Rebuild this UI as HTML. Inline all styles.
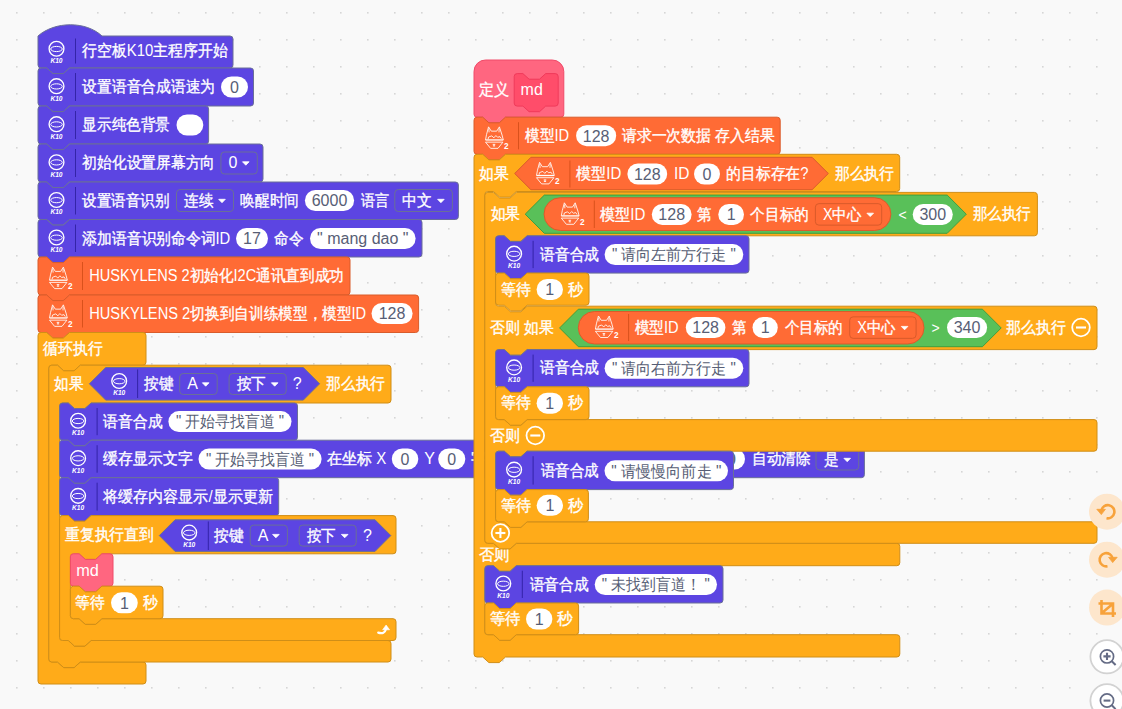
<!DOCTYPE html>
<html><head><meta charset="utf-8"><title>Mind+ blocks</title>
<style>
html,body{margin:0;padding:0;width:1122px;height:709px;overflow:hidden;background:#F9F9F9;}
svg{display:block;font-family:"Liberation Sans",sans-serif;}
text{white-space:pre;}
</style></head><body>
<svg width="1122" height="709" viewBox="0 0 1122 709">
<defs><pattern id="g" x="16" y="12" width="27" height="27" patternUnits="userSpaceOnUse"><rect x="0" y="0" width="1.6" height="1.6" fill="#D6D6D6"/></pattern></defs>
<rect width="1122" height="709" fill="#F9F9F9"/>
<rect width="1122" height="709" fill="url(#g)"/>
<path d="M38,36 C55,21 86,21 102,36 L230,36 Q233,36 233,39 L233,65 Q233,68 230,68 L69.5,68 L63.3,73.6 L52.9,73.6 L46.7,68 L41,68 Q38,68 38,65 Z" fill="#5C45E2" stroke="#6A6F98" stroke-width="1"/>
<circle cx="56.5" cy="48.8" r="7.4" fill="none" stroke="#fff" stroke-width="1.35"/>
<ellipse cx="56.5" cy="49" rx="5.8" ry="2.6" fill="none" stroke="#fff" stroke-width="1.0"/>
<text x="56.5" y="63.2" fill="#fff" font-size="6.6" font-weight="bold" font-style="italic" text-anchor="middle">K10</text>
<rect x="75" y="38.5" width="1" height="25" fill="#3424A8"/>
<text x="82.1" y="56.2" fill="#fff" font-size="16" text-anchor="start" textLength="145.5" lengthAdjust="spacingAndGlyphs"><tspan stroke="#fff" stroke-width="0.35">行空板</tspan>K10<tspan stroke="#fff" stroke-width="0.35">主程序开始</tspan></text>
<path d="M38,71 Q38,68 41,68 L46.7,68 L52.9,73.6 L63.3,73.6 L69.5,68 L250.5,68 Q253.5,68 253.5,71 L253.5,103 Q253.5,106 250.5,106 L69.5,106 L63.3,111.6 L52.9,111.6 L46.7,106 L41,106 Q38,106 38,103 Z" fill="#5C45E2" stroke="#6A6F98" stroke-width="1"/>
<circle cx="56.5" cy="86.2" r="7.4" fill="none" stroke="#fff" stroke-width="1.35"/>
<ellipse cx="56.5" cy="86.4" rx="5.8" ry="2.6" fill="none" stroke="#fff" stroke-width="1.0"/>
<text x="56.5" y="100.6" fill="#fff" font-size="6.6" font-weight="bold" font-style="italic" text-anchor="middle">K10</text>
<rect x="75" y="73" width="1" height="28" fill="#3424A8"/>
<text x="82.4" y="92.2" fill="#fff" font-size="16" text-anchor="start" textLength="132.6" lengthAdjust="spacingAndGlyphs"><tspan stroke="#fff" stroke-width="0.35">设置语音合成语速为</tspan></text>
<rect x="221" y="76.5" width="27" height="21" rx="10.5" fill="#fff" stroke="none"/>
<text x="234.5" y="92.8" fill="#575E75" font-size="16" text-anchor="middle">0</text>
<path d="M38,109 Q38,106 41,106 L46.7,106 L52.9,111.6 L63.3,111.6 L69.5,106 L205.6,106 Q208.6,106 208.6,109 L208.6,141 Q208.6,144 205.6,144 L69.5,144 L63.3,149.6 L52.9,149.6 L46.7,144 L41,144 Q38,144 38,141 Z" fill="#5C45E2" stroke="#6A6F98" stroke-width="1"/>
<circle cx="56.5" cy="124.2" r="7.4" fill="none" stroke="#fff" stroke-width="1.35"/>
<ellipse cx="56.5" cy="124.4" rx="5.8" ry="2.6" fill="none" stroke="#fff" stroke-width="1.0"/>
<text x="56.5" y="138.6" fill="#fff" font-size="6.6" font-weight="bold" font-style="italic" text-anchor="middle">K10</text>
<rect x="75" y="111" width="1" height="28" fill="#3424A8"/>
<text x="82.4" y="130.2" fill="#fff" font-size="16" text-anchor="start" textLength="87.6" lengthAdjust="spacingAndGlyphs"><tspan stroke="#fff" stroke-width="0.35">显示纯色背景</tspan></text>
<rect x="176.5" y="114.5" width="26.8" height="21" rx="10.5" fill="#fff" stroke="none"/>
<path d="M38,147 Q38,144 41,144 L46.7,144 L52.9,149.6 L63.3,149.6 L69.5,144 L260,144 Q263,144 263,147 L263,179 Q263,182 260,182 L69.5,182 L63.3,187.6 L52.9,187.6 L46.7,182 L41,182 Q38,182 38,179 Z" fill="#5C45E2" stroke="#6A6F98" stroke-width="1"/>
<circle cx="56.5" cy="162.2" r="7.4" fill="none" stroke="#fff" stroke-width="1.35"/>
<ellipse cx="56.5" cy="162.4" rx="5.8" ry="2.6" fill="none" stroke="#fff" stroke-width="1.0"/>
<text x="56.5" y="176.6" fill="#fff" font-size="6.6" font-weight="bold" font-style="italic" text-anchor="middle">K10</text>
<rect x="75" y="149" width="1" height="28" fill="#3424A8"/>
<text x="82.4" y="168.2" fill="#fff" font-size="16" text-anchor="start" textLength="132.6" lengthAdjust="spacingAndGlyphs"><tspan stroke="#fff" stroke-width="0.35">初始化设置屏幕方向</tspan></text>
<rect x="220.9" y="152" width="36.4" height="22" rx="3.5" fill="#5C45E2" stroke="#6A6F98" stroke-width="1"/>
<text x="228.4" y="168.2" fill="#fff" font-size="16" text-anchor="start">0</text>
<path d="M242.5,161.8 L249.1,161.8 L245.8,165.2 Z" fill="#fff" stroke="#fff" stroke-width="0.8" stroke-linejoin="round"/>
<path d="M38,185 Q38,182 41,182 L46.7,182 L52.9,187.6 L63.3,187.6 L69.5,182 L455.4,182 Q458.4,182 458.4,185 L458.4,216.5 Q458.4,219.5 455.4,219.5 L69.5,219.5 L63.3,225.1 L52.9,225.1 L46.7,219.5 L41,219.5 Q38,219.5 38,216.5 Z" fill="#5C45E2" stroke="#6A6F98" stroke-width="1"/>
<circle cx="56.5" cy="199.95" r="7.4" fill="none" stroke="#fff" stroke-width="1.35"/>
<ellipse cx="56.5" cy="200.15" rx="5.8" ry="2.6" fill="none" stroke="#fff" stroke-width="1.0"/>
<text x="56.5" y="214.35" fill="#fff" font-size="6.6" font-weight="bold" font-style="italic" text-anchor="middle">K10</text>
<rect x="75" y="187" width="1" height="27.5" fill="#3424A8"/>
<text x="82.4" y="205.7" fill="#fff" font-size="16" text-anchor="start" textLength="86.9" lengthAdjust="spacingAndGlyphs"><tspan stroke="#fff" stroke-width="0.35">设置语音识别</tspan></text>
<rect x="176.5" y="189.5" width="57" height="22" rx="3.5" fill="#5C45E2" stroke="#6A6F98" stroke-width="1"/>
<text x="184" y="205.7" fill="#fff" font-size="16" text-anchor="start" textLength="29" lengthAdjust="spacingAndGlyphs"><tspan stroke="#fff" stroke-width="0.35">连续</tspan></text>
<path d="M218.7,199.3 L225.3,199.3 L222,202.7 Z" fill="#fff" stroke="#fff" stroke-width="0.8" stroke-linejoin="round"/>
<text x="240.3" y="205.7" fill="#fff" font-size="16" text-anchor="start" textLength="58.6" lengthAdjust="spacingAndGlyphs"><tspan stroke="#fff" stroke-width="0.35">唤醒时间</tspan></text>
<rect x="304.9" y="190" width="49.2" height="21" rx="10.5" fill="#fff" stroke="none"/>
<text x="329.5" y="206.3" fill="#575E75" font-size="16" text-anchor="middle">6000</text>
<text x="360.5" y="205.7" fill="#fff" font-size="16" text-anchor="start" textLength="28.2" lengthAdjust="spacingAndGlyphs"><tspan stroke="#fff" stroke-width="0.35">语言</tspan></text>
<rect x="394.8" y="189.5" width="57.6" height="22" rx="3.5" fill="#5C45E2" stroke="#6A6F98" stroke-width="1"/>
<text x="402.3" y="205.7" fill="#fff" font-size="16" text-anchor="start" textLength="29.6" lengthAdjust="spacingAndGlyphs"><tspan stroke="#fff" stroke-width="0.35">中文</tspan></text>
<path d="M437.6,199.3 L444.2,199.3 L440.9,202.7 Z" fill="#fff" stroke="#fff" stroke-width="0.8" stroke-linejoin="round"/>
<path d="M38,222.5 Q38,219.5 41,219.5 L46.7,219.5 L52.9,225.1 L63.3,225.1 L69.5,219.5 L419,219.5 Q422,219.5 422,222.5 L422,254 Q422,257 419,257 L69.5,257 L63.3,262.6 L52.9,262.6 L46.7,257 L41,257 Q38,257 38,254 Z" fill="#5C45E2" stroke="#6A6F98" stroke-width="1"/>
<circle cx="56.5" cy="237.45" r="7.4" fill="none" stroke="#fff" stroke-width="1.35"/>
<ellipse cx="56.5" cy="237.65" rx="5.8" ry="2.6" fill="none" stroke="#fff" stroke-width="1.0"/>
<text x="56.5" y="251.85" fill="#fff" font-size="6.6" font-weight="bold" font-style="italic" text-anchor="middle">K10</text>
<rect x="75" y="224.5" width="1" height="27.5" fill="#3424A8"/>
<text x="82.4" y="243.7" fill="#fff" font-size="16" text-anchor="start" textLength="147.9" lengthAdjust="spacingAndGlyphs"><tspan stroke="#fff" stroke-width="0.35">添加语音识别命令词</tspan>ID</text>
<rect x="236" y="228" width="32" height="21" rx="10.5" fill="#fff" stroke="none"/>
<text x="252" y="244.3" fill="#575E75" font-size="16" text-anchor="middle">17</text>
<text x="274" y="243.7" fill="#fff" font-size="16" text-anchor="start" textLength="29.3" lengthAdjust="spacingAndGlyphs"><tspan stroke="#fff" stroke-width="0.35">命令</tspan></text>
<rect x="310" y="228" width="105.6" height="21" rx="10.5" fill="#fff" stroke="none"/>
<text x="362.8" y="244.3" fill="#575E75" font-size="16" text-anchor="middle">&quot; mang dao &quot;</text>
<path d="M38,260 Q38,257 41,257 L46.7,257 L52.9,262.6 L63.3,262.6 L69.5,257 L347,257 Q350,257 350,260 L350,292 Q350,295 347,295 L69.5,295 L63.3,300.6 L52.9,300.6 L46.7,295 L41,295 Q38,295 38,292 Z" fill="#FF6B35" stroke="#D95C2B" stroke-width="1"/>
<g transform="translate(58.1,276)" fill="none" stroke="#fff" stroke-width="0.85" stroke-linejoin="round"><path d="M-8.6,4.2 L-7.6,-1.1 L-5.55,-8.9 L-2.8,-4.6 L2.6,-4.6 L5.3,-8.9 L7.95,-0.7 L9.2,4.2"/><path d="M-5.3,-7.2 L-5,-3.4 M5.1,-7.2 L4.9,-3.4"/><path d="M-8.6,6.4 L8.8,6.4 L3.9,12.6 L-3.5,12.6 Z"/><path d="M-6,3.4 L-5.6,1.3 L-2.3,0.1 L-0.3,2.1 L1.8,-0.2 L3.5,1.5 L5.9,0.9 L7.2,2.9"/><path d="M-8.6,4.2 L9.2,4.2" stroke-width="1.3"/><path d="M-1.4,8.6 L1.2,8.6 M-0.1,8.6 L-0.1,10.2 M-1.2,10.2 L1,10.2"/></g>
<text x="68.1" y="288.8" fill="#fff" font-size="8.2" font-weight="bold">2</text>
<rect x="82" y="262" width="1" height="28" fill="#D9511C"/>
<text x="89.2" y="281.2" fill="#fff" font-size="16" text-anchor="start" textLength="254.5" lengthAdjust="spacingAndGlyphs">HUSKYLENS 2<tspan stroke="#fff" stroke-width="0.35">初始化</tspan>I2C<tspan stroke="#fff" stroke-width="0.35">通讯直到成功</tspan></text>
<path d="M38,298 Q38,295 41,295 L46.7,295 L52.9,300.6 L63.3,300.6 L69.5,295 L415.6,295 Q418.6,295 418.6,298 L418.6,329.5 Q418.6,332.5 415.6,332.5 L69.5,332.5 L63.3,338.1 L52.9,338.1 L46.7,332.5 L41,332.5 Q38,332.5 38,329.5 Z" fill="#FF6B35" stroke="#D95C2B" stroke-width="1"/>
<g transform="translate(58.1,313.75)" fill="none" stroke="#fff" stroke-width="0.85" stroke-linejoin="round"><path d="M-8.6,4.2 L-7.6,-1.1 L-5.55,-8.9 L-2.8,-4.6 L2.6,-4.6 L5.3,-8.9 L7.95,-0.7 L9.2,4.2"/><path d="M-5.3,-7.2 L-5,-3.4 M5.1,-7.2 L4.9,-3.4"/><path d="M-8.6,6.4 L8.8,6.4 L3.9,12.6 L-3.5,12.6 Z"/><path d="M-6,3.4 L-5.6,1.3 L-2.3,0.1 L-0.3,2.1 L1.8,-0.2 L3.5,1.5 L5.9,0.9 L7.2,2.9"/><path d="M-8.6,4.2 L9.2,4.2" stroke-width="1.3"/><path d="M-1.4,8.6 L1.2,8.6 M-0.1,8.6 L-0.1,10.2 M-1.2,10.2 L1,10.2"/></g>
<text x="68.1" y="326.55" fill="#fff" font-size="8.2" font-weight="bold">2</text>
<rect x="82" y="300" width="1" height="27.5" fill="#D9511C"/>
<text x="89.2" y="318.7" fill="#fff" font-size="16" text-anchor="start" textLength="277" lengthAdjust="spacingAndGlyphs">HUSKYLENS 2<tspan stroke="#fff" stroke-width="0.35">切换到自训练模型，模型</tspan>ID</text>
<rect x="371.5" y="303" width="41.1" height="21" rx="10.5" fill="#fff" stroke="none"/>
<text x="392.05" y="319.3" fill="#575E75" font-size="16" text-anchor="middle">128</text>
<path d="M38,335.5 Q38,332.5 41,332.5 L46.7,332.5 L52.9,338.1 L63.3,338.1 L69.5,332.5 L143,332.5 Q146,332.5 146,335.5 L146,362.2 Q146,365.2 143,365.2 L80.3,365.2 L74.1,370.8 L63.7,370.8 L57.5,365.2 L51.8,365.2 Q48.8,365.2 48.8,368.2 L48.8,659 Q48.8,662 51.8,662 L57.5,662 L63.7,667.6 L74.1,667.6 L80.3,662 L143,662 Q146,662 146,665 L146,681 Q146,684 143,684 L41,684 Q38,684 38,681 Z" fill="#FFAB19" stroke="#D08E17" stroke-width="1"/>
<text x="43.4" y="354" fill="#fff" font-size="16" text-anchor="start" textLength="59.3" lengthAdjust="spacingAndGlyphs"><tspan stroke="#fff" stroke-width="0.35">循环执行</tspan></text>
<path d="M48.8,368.2 Q48.8,365.2 51.8,365.2 L57.5,365.2 L63.7,370.8 L74.1,370.8 L80.3,365.2 L388,365.2 Q391,365.2 391,368.2 L391,400 Q391,403 388,403 L91.1,403 L84.9,408.6 L74.5,408.6 L68.3,403 L62.6,403 Q59.6,403 59.6,406 L59.6,637.5 Q59.6,640.5 62.6,640.5 L68.3,640.5 L74.5,646.1 L84.9,646.1 L91.1,640.5 L388,640.5 Q391,640.5 391,643.5 L391,659 Q391,662 388,662 L80.3,662 L74.1,667.6 L63.7,667.6 L57.5,662 L51.8,662 Q48.8,662 48.8,659 Z" fill="#FFAB19" stroke="#D08E17" stroke-width="1"/>
<text x="54" y="389.2" fill="#fff" font-size="16" text-anchor="start" textLength="29.3" lengthAdjust="spacingAndGlyphs"><tspan stroke="#fff" stroke-width="0.35">如果</tspan></text>
<path d="M89.4,383.8 L105.7,367.5 L303.3,367.5 L319.6,383.8 L303.3,400.1 L105.7,400.1 Z" fill="#5C45E2" stroke="#6A6F98" stroke-width="1"/>
<circle cx="119.2" cy="381" r="7.4" fill="none" stroke="#fff" stroke-width="1.35"/>
<ellipse cx="119.2" cy="381.2" rx="5.8" ry="2.6" fill="none" stroke="#fff" stroke-width="1.0"/>
<text x="119.2" y="395.4" fill="#fff" font-size="6.6" font-weight="bold" font-style="italic" text-anchor="middle">K10</text>
<rect x="137.1" y="369.5" width="1" height="28.5" fill="#3424A8"/>
<text x="144.3" y="389.2" fill="#fff" font-size="16" text-anchor="start" textLength="29.3" lengthAdjust="spacingAndGlyphs"><tspan stroke="#fff" stroke-width="0.35">按键</tspan></text>
<rect x="179.7" y="373.5" width="37.5" height="21" rx="3.5" fill="#5C45E2" stroke="#6A6F98" stroke-width="1"/>
<text x="187.2" y="389.2" fill="#fff" font-size="16" text-anchor="start">A</text>
<path d="M202.4,382.8 L209,382.8 L205.7,386.2 Z" fill="#fff" stroke="#fff" stroke-width="0.8" stroke-linejoin="round"/>
<rect x="229.1" y="373.5" width="57.1" height="21" rx="3.5" fill="#5C45E2" stroke="#6A6F98" stroke-width="1"/>
<text x="236.6" y="389.2" fill="#fff" font-size="16" text-anchor="start" textLength="29.1" lengthAdjust="spacingAndGlyphs"><tspan stroke="#fff" stroke-width="0.35">按下</tspan></text>
<path d="M271.4,382.8 L278,382.8 L274.7,386.2 Z" fill="#fff" stroke="#fff" stroke-width="0.8" stroke-linejoin="round"/>
<text x="292.7" y="389.2" fill="#fff" font-size="16" text-anchor="start">?</text>
<text x="326" y="389.2" fill="#fff" font-size="16" text-anchor="start" textLength="59" lengthAdjust="spacingAndGlyphs"><tspan stroke="#fff" stroke-width="0.35">那么执行</tspan></text>
<path d="M59.6,406 Q59.6,403 62.6,403 L68.3,403 L74.5,408.6 L84.9,408.6 L91.1,403 L294.5,403 Q297.5,403 297.5,406 L297.5,437.2 Q297.5,440.2 294.5,440.2 L91.1,440.2 L84.9,445.8 L74.5,445.8 L68.3,440.2 L62.6,440.2 Q59.6,440.2 59.6,437.2 Z" fill="#5C45E2" stroke="#6A6F98" stroke-width="1"/>
<circle cx="78.1" cy="420.8" r="7.4" fill="none" stroke="#fff" stroke-width="1.35"/>
<ellipse cx="78.1" cy="421" rx="5.8" ry="2.6" fill="none" stroke="#fff" stroke-width="1.0"/>
<text x="78.1" y="435.2" fill="#fff" font-size="6.6" font-weight="bold" font-style="italic" text-anchor="middle">K10</text>
<rect x="96.6" y="408" width="1" height="27.2" fill="#3424A8"/>
<text x="103.4" y="426.8" fill="#fff" font-size="16" text-anchor="start" textLength="59" lengthAdjust="spacingAndGlyphs"><tspan stroke="#fff" stroke-width="0.35">语音合成</tspan></text>
<rect x="168.4" y="411.1" width="123.1" height="21" rx="10.5" fill="#fff" stroke="none"/>
<text x="229.95" y="427.4" fill="#575E75" font-size="16" text-anchor="middle" textLength="108" lengthAdjust="spacingAndGlyphs">&quot; 开始寻找盲道 &quot;</text>
<path d="M59.6,443.2 Q59.6,440.2 62.6,440.2 L68.3,440.2 L74.5,445.8 L84.9,445.8 L91.1,440.2 L861.4,440.2 Q864.4,440.2 864.4,443.2 L864.4,474.7 Q864.4,477.7 861.4,477.7 L91.1,477.7 L84.9,483.3 L74.5,483.3 L68.3,477.7 L62.6,477.7 Q59.6,477.7 59.6,474.7 Z" fill="#5C45E2" stroke="#6A6F98" stroke-width="1"/>
<circle cx="78.1" cy="458.15" r="7.4" fill="none" stroke="#fff" stroke-width="1.35"/>
<ellipse cx="78.1" cy="458.35" rx="5.8" ry="2.6" fill="none" stroke="#fff" stroke-width="1.0"/>
<text x="78.1" y="472.55" fill="#fff" font-size="6.6" font-weight="bold" font-style="italic" text-anchor="middle">K10</text>
<rect x="96.6" y="445.2" width="1" height="27.5" fill="#3424A8"/>
<text x="103.4" y="464.2" fill="#fff" font-size="16" text-anchor="start" textLength="89.1" lengthAdjust="spacingAndGlyphs"><tspan stroke="#fff" stroke-width="0.35">缓存显示文字</tspan></text>
<rect x="198.5" y="448.5" width="123.1" height="21" rx="10.5" fill="#fff" stroke="none"/>
<text x="260.05" y="464.8" fill="#575E75" font-size="16" text-anchor="middle" textLength="108" lengthAdjust="spacingAndGlyphs">&quot; 开始寻找盲道 &quot;</text>
<text x="326.8" y="464.2" fill="#fff" font-size="16" text-anchor="start" textLength="59.4" lengthAdjust="spacingAndGlyphs"><tspan stroke="#fff" stroke-width="0.35">在坐标</tspan> X</text>
<rect x="391.8" y="448.5" width="26.5" height="21" rx="10.5" fill="#fff" stroke="none"/>
<text x="405.05" y="464.8" fill="#575E75" font-size="16" text-anchor="middle">0</text>
<text x="424.2" y="464.2" fill="#fff" font-size="16" text-anchor="start">Y</text>
<rect x="438.2" y="448.5" width="27.1" height="21" rx="10.5" fill="#fff" stroke="none"/>
<text x="451.75" y="464.8" fill="#575E75" font-size="16" text-anchor="middle">0</text>
<text x="470.8" y="464.2" fill="#fff" font-size="16" text-anchor="start"><tspan stroke="#fff" stroke-width="0.35">字号</tspan></text>
<rect x="718" y="448.5" width="27" height="21" rx="10.5" fill="#fff" stroke="none"/>
<text x="731.5" y="464.8" fill="#575E75" font-size="16" text-anchor="middle">0</text>
<text x="752.1" y="464.2" fill="#fff" font-size="16" text-anchor="start" textLength="58.6" lengthAdjust="spacingAndGlyphs"><tspan stroke="#fff" stroke-width="0.35">自动清除</tspan></text>
<rect x="816" y="449" width="42.7" height="21" rx="3.5" fill="#5C45E2" stroke="#6A6F98" stroke-width="1"/>
<text x="823.5" y="464.7" fill="#fff" font-size="16" text-anchor="start" textLength="14.7" lengthAdjust="spacingAndGlyphs"><tspan stroke="#fff" stroke-width="0.35">是</tspan></text>
<path d="M843.9,458.3 L850.5,458.3 L847.2,461.7 Z" fill="#fff" stroke="#fff" stroke-width="0.8" stroke-linejoin="round"/>
<path d="M59.6,480.7 Q59.6,477.7 62.6,477.7 L68.3,477.7 L74.5,483.3 L84.9,483.3 L91.1,477.7 L275.7,477.7 Q278.7,477.7 278.7,480.7 L278.7,512.6 Q278.7,515.6 275.7,515.6 L91.1,515.6 L84.9,521.2 L74.5,521.2 L68.3,515.6 L62.6,515.6 Q59.6,515.6 59.6,512.6 Z" fill="#5C45E2" stroke="#6A6F98" stroke-width="1"/>
<circle cx="78.1" cy="495.85" r="7.4" fill="none" stroke="#fff" stroke-width="1.35"/>
<ellipse cx="78.1" cy="496.05" rx="5.8" ry="2.6" fill="none" stroke="#fff" stroke-width="1.0"/>
<text x="78.1" y="510.25" fill="#fff" font-size="6.6" font-weight="bold" font-style="italic" text-anchor="middle">K10</text>
<rect x="96.6" y="482.7" width="1" height="27.9" fill="#3424A8"/>
<text x="103.4" y="501.8" fill="#fff" font-size="16" text-anchor="start" textLength="169.3" lengthAdjust="spacingAndGlyphs"><tspan stroke="#fff" stroke-width="0.35">将缓存内容显示</tspan>/<tspan stroke="#fff" stroke-width="0.35">显示更新</tspan></text>
<path d="M59.6,518.6 Q59.6,515.6 62.6,515.6 L68.3,515.6 L74.5,521.2 L84.9,521.2 L91.1,515.6 L393,515.6 Q396,515.6 396,518.6 L396,550.8 Q396,553.8 393,553.8 L101.9,553.8 L95.7,559.4 L85.3,559.4 L79.1,553.8 L73.4,553.8 Q70.4,553.8 70.4,556.8 L70.4,615.7 Q70.4,618.7 73.4,618.7 L79.1,618.7 L85.3,624.3 L95.7,624.3 L101.9,618.7 L393,618.7 Q396,618.7 396,621.7 L396,637.5 Q396,640.5 393,640.5 L91.1,640.5 L84.9,646.1 L74.5,646.1 L68.3,640.5 L62.6,640.5 Q59.6,640.5 59.6,637.5 Z" fill="#FFAB19" stroke="#D08E17" stroke-width="1"/>
<text x="64.8" y="540.2" fill="#fff" font-size="16" text-anchor="start" textLength="89.2" lengthAdjust="spacingAndGlyphs"><tspan stroke="#fff" stroke-width="0.35">重复执行直到</tspan></text>
<path d="M159.3,535.6 L175.1,519.8 L375,519.8 L390.8,535.6 L375,551.4 L175.1,551.4 Z" fill="#5C45E2" stroke="#6A6F98" stroke-width="1"/>
<circle cx="189.2" cy="532.6" r="7.4" fill="none" stroke="#fff" stroke-width="1.35"/>
<ellipse cx="189.2" cy="532.8" rx="5.8" ry="2.6" fill="none" stroke="#fff" stroke-width="1.0"/>
<text x="189.2" y="547" fill="#fff" font-size="6.6" font-weight="bold" font-style="italic" text-anchor="middle">K10</text>
<rect x="207.8" y="521.5" width="1" height="28.5" fill="#3424A8"/>
<text x="214.2" y="540.8" fill="#fff" font-size="16" text-anchor="start" textLength="29.6" lengthAdjust="spacingAndGlyphs"><tspan stroke="#fff" stroke-width="0.35">按键</tspan></text>
<rect x="250.2" y="525.1" width="37.2" height="21" rx="3.5" fill="#5C45E2" stroke="#6A6F98" stroke-width="1"/>
<text x="257.7" y="540.8" fill="#fff" font-size="16" text-anchor="start">A</text>
<path d="M272.6,534.4 L279.2,534.4 L275.9,537.8 Z" fill="#fff" stroke="#fff" stroke-width="0.8" stroke-linejoin="round"/>
<rect x="299.2" y="525.1" width="57" height="21" rx="3.5" fill="#5C45E2" stroke="#6A6F98" stroke-width="1"/>
<text x="306.7" y="540.8" fill="#fff" font-size="16" text-anchor="start" textLength="29" lengthAdjust="spacingAndGlyphs"><tspan stroke="#fff" stroke-width="0.35">按下</tspan></text>
<path d="M341.4,534.4 L348,534.4 L344.7,537.8 Z" fill="#fff" stroke="#fff" stroke-width="0.8" stroke-linejoin="round"/>
<text x="363" y="540.8" fill="#fff" font-size="16" text-anchor="start">?</text>
<path d="M378.2,632.6 Q384.6,634.6 386,629" fill="none" stroke="#fff" stroke-width="2.2" stroke-linecap="round"/><path d="M382.6,629.8 L389.6,629.8 L386.1,625 Z" fill="#fff" stroke="#fff" stroke-width="0.6" stroke-linejoin="round"/>
<path d="M70.4,556.8 Q70.4,553.8 73.4,553.8 L79.1,553.8 L85.3,559.4 L95.7,559.4 L101.9,553.8 L110,553.8 Q113,553.8 113,556.8 L113,583.2 Q113,586.2 110,586.2 L101.9,586.2 L95.7,591.8 L85.3,591.8 L79.1,586.2 L73.4,586.2 Q70.4,586.2 70.4,583.2 Z" fill="#FF6680" stroke="#F04A68" stroke-width="1"/>
<text x="76.2" y="576" fill="#fff" font-size="16" text-anchor="start" textLength="22.6" lengthAdjust="spacingAndGlyphs">md</text>
<path d="M70.4,589.2 Q70.4,586.2 73.4,586.2 L79.1,586.2 L85.3,591.8 L95.7,591.8 L101.9,586.2 L160,586.2 Q163,586.2 163,589.2 L163,615.7 Q163,618.7 160,618.7 L101.9,618.7 L95.7,624.3 L85.3,624.3 L79.1,618.7 L73.4,618.7 Q70.4,618.7 70.4,615.7 Z" fill="#FFAB19" stroke="#D08E17" stroke-width="1"/>
<text x="75.2" y="607.8" fill="#fff" font-size="16" text-anchor="start" textLength="29.5" lengthAdjust="spacingAndGlyphs"><tspan stroke="#fff" stroke-width="0.35">等待</tspan></text>
<rect x="111" y="592.3" width="26.8" height="21" rx="10.5" fill="#fff" stroke="none"/>
<text x="124.4" y="608.6" fill="#575E75" font-size="16" text-anchor="middle">1</text>
<text x="143" y="607.8" fill="#fff" font-size="16" text-anchor="start" textLength="14.9" lengthAdjust="spacingAndGlyphs"><tspan stroke="#fff" stroke-width="0.35">秒</tspan></text>
<path d="M474,71.5 A11.5,11.5 0 0 1 485.5,60 L552.3,60 A11.5,11.5 0 0 1 563.8,71.5 L563.8,114.2 Q563.8,117.2 560.8,117.2 L505.5,117.2 L499.3,122.8 L488.9,122.8 L482.7,117.2 L477,117.2 Q474,117.2 474,114.2 Z" fill="#FF6680" stroke="#F04A68" stroke-width="1"/>
<text x="479.4" y="94.7" fill="#fff" font-size="16" text-anchor="start" textLength="30.1" lengthAdjust="spacingAndGlyphs"><tspan stroke="#fff" stroke-width="0.35">定义</tspan></text>
<path d="M514.2,76.6 Q514.2,73.6 517.2,73.6 L522.9,73.6 L529.1,79.2 L539.5,79.2 L545.7,73.6 L555.2,73.6 Q558.2,73.6 558.2,76.6 L558.2,103.1 Q558.2,106.1 555.2,106.1 L545.7,106.1 L539.5,111.7 L529.1,111.7 L522.9,106.1 L517.2,106.1 Q514.2,106.1 514.2,103.1 Z" fill="#FF4D6A" stroke="#F03A5A" stroke-width="1"/>
<text x="520.6" y="95.2" fill="#fff" font-size="16" text-anchor="start" textLength="22.2" lengthAdjust="spacingAndGlyphs">md</text>
<path d="M474,120.2 Q474,117.2 477,117.2 L482.7,117.2 L488.9,122.8 L499.3,122.8 L505.5,117.2 L777.2,117.2 Q780.2,117.2 780.2,120.2 L780.2,151.3 Q780.2,154.3 777.2,154.3 L505.5,154.3 L499.3,159.9 L488.9,159.9 L482.7,154.3 L477,154.3 Q474,154.3 474,151.3 Z" fill="#FF6B35" stroke="#D95C2B" stroke-width="1"/>
<g transform="translate(494.1,135.75)" fill="none" stroke="#fff" stroke-width="0.85" stroke-linejoin="round"><path d="M-8.6,4.2 L-7.6,-1.1 L-5.55,-8.9 L-2.8,-4.6 L2.6,-4.6 L5.3,-8.9 L7.95,-0.7 L9.2,4.2"/><path d="M-5.3,-7.2 L-5,-3.4 M5.1,-7.2 L4.9,-3.4"/><path d="M-8.6,6.4 L8.8,6.4 L3.9,12.6 L-3.5,12.6 Z"/><path d="M-6,3.4 L-5.6,1.3 L-2.3,0.1 L-0.3,2.1 L1.8,-0.2 L3.5,1.5 L5.9,0.9 L7.2,2.9"/><path d="M-8.6,4.2 L9.2,4.2" stroke-width="1.3"/><path d="M-1.4,8.6 L1.2,8.6 M-0.1,8.6 L-0.1,10.2 M-1.2,10.2 L1,10.2"/></g>
<text x="504.1" y="148.55" fill="#fff" font-size="8.2" font-weight="bold">2</text>
<rect x="518" y="122.2" width="1" height="27.1" fill="#D9511C"/>
<text x="525.1" y="140.9" fill="#fff" font-size="16" text-anchor="start" textLength="44" lengthAdjust="spacingAndGlyphs"><tspan stroke="#fff" stroke-width="0.35">模型</tspan>ID</text>
<rect x="576.1" y="125.2" width="40.1" height="21" rx="10.5" fill="#fff" stroke="none"/>
<text x="596.15" y="141.5" fill="#575E75" font-size="16" text-anchor="middle">128</text>
<text x="622" y="140.9" fill="#fff" font-size="16" text-anchor="start" textLength="152.4" lengthAdjust="spacingAndGlyphs"><tspan stroke="#fff" stroke-width="0.35">请求一次数据</tspan> <tspan stroke="#fff" stroke-width="0.35">存入结果</tspan></text>
<path d="M474,157.3 Q474,154.3 477,154.3 L482.7,154.3 L488.9,159.9 L499.3,159.9 L505.5,154.3 L896.7,154.3 Q899.7,154.3 899.7,157.3 L899.7,188.5 Q899.7,191.5 896.7,191.5 L516.3,191.5 L510.1,197.1 L499.7,197.1 L493.5,191.5 L487.8,191.5 Q484.8,191.5 484.8,194.5 L484.8,540.3 Q484.8,543.3 487.8,543.3 L493.5,543.3 L499.7,548.9 L510.1,548.9 L516.3,543.3 L896.8,543.3 Q899.8,543.3 899.8,546.3 L899.8,562.7 Q899.8,565.7 896.8,565.7 L516.3,565.7 L510.1,571.3 L499.7,571.3 L493.5,565.7 L487.8,565.7 Q484.8,565.7 484.8,568.7 L484.8,631.7 Q484.8,634.7 487.8,634.7 L493.5,634.7 L499.7,640.3 L510.1,640.3 L516.3,634.7 L896.8,634.7 Q899.8,634.7 899.8,637.7 L899.8,654 Q899.8,657 896.8,657 L505.5,657 L499.3,662.6 L488.9,662.6 L482.7,657 L477,657 Q474,657 474,654 Z" fill="#FFAB19" stroke="#D08E17" stroke-width="1"/>
<text x="479.2" y="178.7" fill="#fff" font-size="16" text-anchor="start" textLength="29.8" lengthAdjust="spacingAndGlyphs"><tspan stroke="#fff" stroke-width="0.35">如果</tspan></text>
<path d="M514.7,173.5 L530.9,157.3 L812.1,157.3 L828.3,173.5 L812.1,189.7 L530.9,189.7 Z" fill="#FF6B35" stroke="#D95C2B" stroke-width="1"/>
<g transform="translate(545.1,171.3)" fill="none" stroke="#fff" stroke-width="0.85" stroke-linejoin="round"><path d="M-8.6,4.2 L-7.6,-1.1 L-5.55,-8.9 L-2.8,-4.6 L2.6,-4.6 L5.3,-8.9 L7.95,-0.7 L9.2,4.2"/><path d="M-5.3,-7.2 L-5,-3.4 M5.1,-7.2 L4.9,-3.4"/><path d="M-8.6,6.4 L8.8,6.4 L3.9,12.6 L-3.5,12.6 Z"/><path d="M-6,3.4 L-5.6,1.3 L-2.3,0.1 L-0.3,2.1 L1.8,-0.2 L3.5,1.5 L5.9,0.9 L7.2,2.9"/><path d="M-8.6,4.2 L9.2,4.2" stroke-width="1.3"/><path d="M-1.4,8.6 L1.2,8.6 M-0.1,8.6 L-0.1,10.2 M-1.2,10.2 L1,10.2"/></g>
<text x="555.1" y="184.1" fill="#fff" font-size="8.2" font-weight="bold">2</text>
<rect x="569.4" y="160.5" width="1" height="27" fill="#D9511C"/>
<text x="576.2" y="179.2" fill="#fff" font-size="16" text-anchor="start" textLength="45.1" lengthAdjust="spacingAndGlyphs"><tspan stroke="#fff" stroke-width="0.35">模型</tspan>ID</text>
<rect x="627.4" y="163.5" width="39.8" height="21" rx="10.5" fill="#fff" stroke="none"/>
<text x="647.3" y="179.8" fill="#575E75" font-size="16" text-anchor="middle">128</text>
<text x="674" y="179.2" fill="#fff" font-size="16" text-anchor="start" textLength="15.5" lengthAdjust="spacingAndGlyphs">ID</text>
<rect x="694" y="163.5" width="26" height="21" rx="10.5" fill="#fff" stroke="none"/>
<text x="707" y="179.8" fill="#575E75" font-size="16" text-anchor="middle">0</text>
<text x="726.3" y="179.2" fill="#fff" font-size="16" text-anchor="start" textLength="82.1" lengthAdjust="spacingAndGlyphs"><tspan stroke="#fff" stroke-width="0.35">的目标存在</tspan>?</text>
<text x="834.7" y="178.7" fill="#fff" font-size="16" text-anchor="start" textLength="59.4" lengthAdjust="spacingAndGlyphs"><tspan stroke="#fff" stroke-width="0.35">那么执行</tspan></text>
<text x="478.6" y="559.7" fill="#fff" font-size="16" text-anchor="start" textLength="30.6" lengthAdjust="spacingAndGlyphs"><tspan stroke="#fff" stroke-width="0.35">否则</tspan></text>
<path d="M484.8,195.4 Q484.8,192.4 487.8,192.4 L493.5,192.4 L499.7,198 L510.1,198 L516.3,192.4 L1034.4,192.4 Q1037.4,192.4 1037.4,195.4 L1037.4,232.8 Q1037.4,235.8 1034.4,235.8 L527.1,235.8 L520.9,241.4 L510.5,241.4 L504.3,235.8 L498.6,235.8 Q495.6,235.8 495.6,238.8 L495.6,303.2 Q495.6,306.2 498.6,306.2 L504.3,306.2 L510.5,311.8 L520.9,311.8 L527.1,306.2 L1094,306.2 Q1097,306.2 1097,309.2 L1097,346.6 Q1097,349.6 1094,349.6 L527.1,349.6 L520.9,355.2 L510.5,355.2 L504.3,349.6 L498.6,349.6 Q495.6,349.6 495.6,352.6 L495.6,416.6 Q495.6,419.6 498.6,419.6 L504.3,419.6 L510.5,425.2 L520.9,425.2 L527.1,419.6 L1094,419.6 Q1097,419.6 1097,422.6 L1097,448.2 Q1097,451.2 1094,451.2 L527.1,451.2 L520.9,456.8 L510.5,456.8 L504.3,451.2 L498.6,451.2 Q495.6,451.2 495.6,454.2 L495.6,518.8 Q495.6,521.8 498.6,521.8 L504.3,521.8 L510.5,527.4 L520.9,527.4 L527.1,521.8 L1094,521.8 Q1097,521.8 1097,524.8 L1097,540.3 Q1097,543.3 1094,543.3 L516.3,543.3 L510.1,548.9 L499.7,548.9 L493.5,543.3 L487.8,543.3 Q484.8,543.3 484.8,540.3 Z" fill="#FFAB19" stroke="#D08E17" stroke-width="1"/>
<text x="490.5" y="219" fill="#fff" font-size="16" text-anchor="start" textLength="29.8" lengthAdjust="spacingAndGlyphs"><tspan stroke="#fff" stroke-width="0.35">如果</tspan></text>
<path d="M525.2,214.2 L544.3,195.1 L947.2,195.1 L966.3,214.2 L947.2,233.3 L544.3,233.3 Z" fill="#59C059" stroke="#3F9F3F" stroke-width="1"/>
<rect x="544" y="197.7" width="346.9" height="32.8" rx="16.4" fill="#FF6B35" stroke="#D95C2B"/>
<g transform="translate(569.9,211.7)" fill="none" stroke="#fff" stroke-width="0.85" stroke-linejoin="round"><path d="M-8.6,4.2 L-7.6,-1.1 L-5.55,-8.9 L-2.8,-4.6 L2.6,-4.6 L5.3,-8.9 L7.95,-0.7 L9.2,4.2"/><path d="M-5.3,-7.2 L-5,-3.4 M5.1,-7.2 L4.9,-3.4"/><path d="M-8.6,6.4 L8.8,6.4 L3.9,12.6 L-3.5,12.6 Z"/><path d="M-6,3.4 L-5.6,1.3 L-2.3,0.1 L-0.3,2.1 L1.8,-0.2 L3.5,1.5 L5.9,0.9 L7.2,2.9"/><path d="M-8.6,4.2 L9.2,4.2" stroke-width="1.3"/><path d="M-1.4,8.6 L1.2,8.6 M-0.1,8.6 L-0.1,10.2 M-1.2,10.2 L1,10.2"/></g>
<text x="579.9" y="224.5" fill="#fff" font-size="8.2" font-weight="bold">2</text>
<rect x="593.8" y="200.5" width="1" height="27.5" fill="#D9511C"/>
<text x="600.2" y="219.6" fill="#fff" font-size="16" text-anchor="start" textLength="45.2" lengthAdjust="spacingAndGlyphs"><tspan stroke="#fff" stroke-width="0.35">模型</tspan>ID</text>
<rect x="651.8" y="203.9" width="39.8" height="21" rx="10.5" fill="#fff" stroke="none"/>
<text x="671.7" y="220.2" fill="#575E75" font-size="16" text-anchor="middle">128</text>
<text x="697.4" y="219.6" fill="#fff" font-size="16" text-anchor="start" textLength="14.4" lengthAdjust="spacingAndGlyphs"><tspan stroke="#fff" stroke-width="0.35">第</tspan></text>
<rect x="718.3" y="203.9" width="25.7" height="21" rx="10.5" fill="#fff" stroke="none"/>
<text x="731.15" y="220.2" fill="#575E75" font-size="16" text-anchor="middle">1</text>
<text x="750.3" y="219.6" fill="#fff" font-size="16" text-anchor="start" textLength="58.7" lengthAdjust="spacingAndGlyphs"><tspan stroke="#fff" stroke-width="0.35">个目标的</tspan></text>
<rect x="815.4" y="203.65" width="66.3" height="21.5" rx="3.5" fill="#FF6B35" stroke="#D95A2A" stroke-width="1"/>
<text x="822.9" y="219.6" fill="#fff" font-size="16" text-anchor="start" textLength="38.3" lengthAdjust="spacingAndGlyphs">X<tspan stroke="#fff" stroke-width="0.35">中心</tspan></text>
<path d="M866.9,213.2 L873.5,213.2 L870.2,216.6 Z" fill="#fff" stroke="#fff" stroke-width="0.8" stroke-linejoin="round"/>
<text x="898.5" y="219.6" fill="#fff" font-size="14" text-anchor="start">&lt;</text>
<rect x="912.7" y="203.9" width="40.1" height="21" rx="10.5" fill="#fff" stroke="none"/>
<text x="932.75" y="220.2" fill="#575E75" font-size="16" text-anchor="middle">300</text>
<text x="972.7" y="219" fill="#fff" font-size="16" text-anchor="start" textLength="58.3" lengthAdjust="spacingAndGlyphs"><tspan stroke="#fff" stroke-width="0.35">那么执行</tspan></text>
<path d="M495.6,238.8 Q495.6,235.8 498.6,235.8 L504.3,235.8 L510.5,241.4 L520.9,241.4 L527.1,235.8 L746,235.8 Q749,235.8 749,238.8 L749,270.1 Q749,273.1 746,273.1 L527.1,273.1 L520.9,278.7 L510.5,278.7 L504.3,273.1 L498.6,273.1 Q495.6,273.1 495.6,270.1 Z" fill="#5C45E2" stroke="#6A6F98" stroke-width="1"/>
<circle cx="514.1" cy="253.65" r="7.4" fill="none" stroke="#fff" stroke-width="1.35"/>
<ellipse cx="514.1" cy="253.85" rx="5.8" ry="2.6" fill="none" stroke="#fff" stroke-width="1.0"/>
<text x="514.1" y="268.05" fill="#fff" font-size="6.6" font-weight="bold" font-style="italic" text-anchor="middle">K10</text>
<rect x="532.6" y="240.8" width="1" height="27.3" fill="#3424A8"/>
<text x="540" y="259.7" fill="#fff" font-size="16" text-anchor="start" textLength="59.2" lengthAdjust="spacingAndGlyphs"><tspan stroke="#fff" stroke-width="0.35">语音合成</tspan></text>
<rect x="604.6" y="244" width="138.7" height="21" rx="10.5" fill="#fff" stroke="none"/>
<text x="673.95" y="260.3" fill="#575E75" font-size="16" text-anchor="middle" textLength="124" lengthAdjust="spacingAndGlyphs">&quot; 请向左前方行走 &quot;</text>
<path d="M495.6,276.1 Q495.6,273.1 498.6,273.1 L504.3,273.1 L510.5,278.7 L520.9,278.7 L527.1,273.1 L586,273.1 Q589,273.1 589,276.1 L589,302.2 Q589,305.2 586,305.2 L527.1,305.2 L520.9,310.8 L510.5,310.8 L504.3,305.2 L498.6,305.2 Q495.6,305.2 495.6,302.2 Z" fill="#FFAB19" stroke="#D08E17" stroke-width="1"/>
<text x="501.1" y="294.6" fill="#fff" font-size="16" text-anchor="start" textLength="29.8" lengthAdjust="spacingAndGlyphs"><tspan stroke="#fff" stroke-width="0.35">等待</tspan></text>
<rect x="536.6" y="278.9" width="26.4" height="21" rx="10.5" fill="#fff" stroke="none"/>
<text x="549.8" y="295.2" fill="#575E75" font-size="16" text-anchor="middle">1</text>
<text x="568.1" y="294.6" fill="#fff" font-size="16" text-anchor="start" textLength="15.2" lengthAdjust="spacingAndGlyphs"><tspan stroke="#fff" stroke-width="0.35">秒</tspan></text>
<text x="490.3" y="332.6" fill="#fff" font-size="16" text-anchor="start" textLength="63.6" lengthAdjust="spacingAndGlyphs"><tspan stroke="#fff" stroke-width="0.35">否则</tspan> <tspan stroke="#fff" stroke-width="0.35">如果</tspan></text>
<path d="M559.6,327.95 L578.35,309.2 L982.45,309.2 L1001.2,327.95 L982.45,346.7 L578.35,346.7 Z" fill="#59C059" stroke="#3F9F3F" stroke-width="1"/>
<rect x="578.3" y="311.5" width="345.7" height="32.5" rx="16.2" fill="#FF6B35" stroke="#D95C2B"/>
<g transform="translate(604,324.9)" fill="none" stroke="#fff" stroke-width="0.85" stroke-linejoin="round"><path d="M-8.6,4.2 L-7.6,-1.1 L-5.55,-8.9 L-2.8,-4.6 L2.6,-4.6 L5.3,-8.9 L7.95,-0.7 L9.2,4.2"/><path d="M-5.3,-7.2 L-5,-3.4 M5.1,-7.2 L4.9,-3.4"/><path d="M-8.6,6.4 L8.8,6.4 L3.9,12.6 L-3.5,12.6 Z"/><path d="M-6,3.4 L-5.6,1.3 L-2.3,0.1 L-0.3,2.1 L1.8,-0.2 L3.5,1.5 L5.9,0.9 L7.2,2.9"/><path d="M-8.6,4.2 L9.2,4.2" stroke-width="1.3"/><path d="M-1.4,8.6 L1.2,8.6 M-0.1,8.6 L-0.1,10.2 M-1.2,10.2 L1,10.2"/></g>
<text x="614" y="337.7" fill="#fff" font-size="8.2" font-weight="bold">2</text>
<rect x="628.1" y="314" width="1" height="27" fill="#D9511C"/>
<text x="634.7" y="332.8" fill="#fff" font-size="16" text-anchor="start" textLength="44" lengthAdjust="spacingAndGlyphs"><tspan stroke="#fff" stroke-width="0.35">模型</tspan>ID</text>
<rect x="685.8" y="317.1" width="39.6" height="21" rx="10.5" fill="#fff" stroke="none"/>
<text x="705.6" y="333.4" fill="#575E75" font-size="16" text-anchor="middle">128</text>
<text x="732.2" y="332.8" fill="#fff" font-size="16" text-anchor="start" textLength="14.3" lengthAdjust="spacingAndGlyphs"><tspan stroke="#fff" stroke-width="0.35">第</tspan></text>
<rect x="752.5" y="317.1" width="25.3" height="21" rx="10.5" fill="#fff" stroke="none"/>
<text x="765.15" y="333.4" fill="#575E75" font-size="16" text-anchor="middle">1</text>
<text x="784.6" y="332.8" fill="#fff" font-size="16" text-anchor="start" textLength="58.2" lengthAdjust="spacingAndGlyphs"><tspan stroke="#fff" stroke-width="0.35">个目标的</tspan></text>
<rect x="849.7" y="316.85" width="66.4" height="21.5" rx="3.5" fill="#FF6B35" stroke="#D95A2A" stroke-width="1"/>
<text x="857.2" y="332.8" fill="#fff" font-size="16" text-anchor="start" textLength="38.4" lengthAdjust="spacingAndGlyphs">X<tspan stroke="#fff" stroke-width="0.35">中心</tspan></text>
<path d="M901.3,326.4 L907.9,326.4 L904.6,329.8 Z" fill="#fff" stroke="#fff" stroke-width="0.8" stroke-linejoin="round"/>
<text x="931.6" y="332.8" fill="#fff" font-size="14" text-anchor="start">&gt;</text>
<rect x="947" y="317.1" width="40.1" height="21" rx="10.5" fill="#fff" stroke="none"/>
<text x="967.05" y="333.4" fill="#575E75" font-size="16" text-anchor="middle">340</text>
<text x="1006.4" y="332.6" fill="#fff" font-size="16" text-anchor="start" textLength="59.6" lengthAdjust="spacingAndGlyphs"><tspan stroke="#fff" stroke-width="0.35">那么执行</tspan></text>
<circle cx="1081" cy="327.5" r="8.8" fill="none" stroke="#fff" stroke-width="1.8"/><rect x="1076" y="326.45" width="10" height="2.1" fill="#fff"/>
<path d="M495.6,352.6 Q495.6,349.6 498.6,349.6 L504.3,349.6 L510.5,355.2 L520.9,355.2 L527.1,349.6 L746,349.6 Q749,349.6 749,352.6 L749,383.8 Q749,386.8 746,386.8 L527.1,386.8 L520.9,392.4 L510.5,392.4 L504.3,386.8 L498.6,386.8 Q495.6,386.8 495.6,383.8 Z" fill="#5C45E2" stroke="#6A6F98" stroke-width="1"/>
<circle cx="514.1" cy="367.4" r="7.4" fill="none" stroke="#fff" stroke-width="1.35"/>
<ellipse cx="514.1" cy="367.6" rx="5.8" ry="2.6" fill="none" stroke="#fff" stroke-width="1.0"/>
<text x="514.1" y="381.8" fill="#fff" font-size="6.6" font-weight="bold" font-style="italic" text-anchor="middle">K10</text>
<rect x="532.6" y="354.6" width="1" height="27.2" fill="#3424A8"/>
<text x="540" y="373.4" fill="#fff" font-size="16" text-anchor="start" textLength="59.2" lengthAdjust="spacingAndGlyphs"><tspan stroke="#fff" stroke-width="0.35">语音合成</tspan></text>
<rect x="604.6" y="357.7" width="138.7" height="21" rx="10.5" fill="#fff" stroke="none"/>
<text x="673.95" y="374" fill="#575E75" font-size="16" text-anchor="middle" textLength="124" lengthAdjust="spacingAndGlyphs">&quot; 请向右前方行走 &quot;</text>
<path d="M495.6,389.8 Q495.6,386.8 498.6,386.8 L504.3,386.8 L510.5,392.4 L520.9,392.4 L527.1,386.8 L586,386.8 Q589,386.8 589,389.8 L589,416.6 Q589,419.6 586,419.6 L527.1,419.6 L520.9,425.2 L510.5,425.2 L504.3,419.6 L498.6,419.6 Q495.6,419.6 495.6,416.6 Z" fill="#FFAB19" stroke="#D08E17" stroke-width="1"/>
<text x="501.1" y="408.4" fill="#fff" font-size="16" text-anchor="start" textLength="29.8" lengthAdjust="spacingAndGlyphs"><tspan stroke="#fff" stroke-width="0.35">等待</tspan></text>
<rect x="536.6" y="392.7" width="26.4" height="21" rx="10.5" fill="#fff" stroke="none"/>
<text x="549.8" y="409" fill="#575E75" font-size="16" text-anchor="middle">1</text>
<text x="568.1" y="408.4" fill="#fff" font-size="16" text-anchor="start" textLength="15.2" lengthAdjust="spacingAndGlyphs"><tspan stroke="#fff" stroke-width="0.35">秒</tspan></text>
<text x="490.3" y="440.5" fill="#fff" font-size="16" text-anchor="start" textLength="29.7" lengthAdjust="spacingAndGlyphs"><tspan stroke="#fff" stroke-width="0.35">否则</tspan></text>
<circle cx="535.3" cy="435.5" r="8.8" fill="none" stroke="#fff" stroke-width="1.8"/><rect x="530.3" y="434.45" width="10" height="2.1" fill="#fff"/>
<path d="M495.6,454.2 Q495.6,451.2 498.6,451.2 L504.3,451.2 L510.5,456.8 L520.9,456.8 L527.1,451.2 L730.5,451.2 Q733.5,451.2 733.5,454.2 L733.5,486.6 Q733.5,489.6 730.5,489.6 L527.1,489.6 L520.9,495.2 L510.5,495.2 L504.3,489.6 L498.6,489.6 Q495.6,489.6 495.6,486.6 Z" fill="#5C45E2" stroke="#6A6F98" stroke-width="1"/>
<circle cx="514.1" cy="469.6" r="7.4" fill="none" stroke="#fff" stroke-width="1.35"/>
<ellipse cx="514.1" cy="469.8" rx="5.8" ry="2.6" fill="none" stroke="#fff" stroke-width="1.0"/>
<text x="514.1" y="484" fill="#fff" font-size="6.6" font-weight="bold" font-style="italic" text-anchor="middle">K10</text>
<rect x="532.6" y="456.2" width="1" height="28.4" fill="#3424A8"/>
<text x="540.6" y="476" fill="#fff" font-size="16" text-anchor="start" textLength="58" lengthAdjust="spacingAndGlyphs"><tspan stroke="#fff" stroke-width="0.35">语音合成</tspan></text>
<rect x="604.5" y="460.3" width="123.5" height="21" rx="10.5" fill="#fff" stroke="none"/>
<text x="666.25" y="476.6" fill="#575E75" font-size="16" text-anchor="middle" textLength="110" lengthAdjust="spacingAndGlyphs">&quot; 请慢慢向前走 &quot;</text>
<path d="M495.6,492.6 Q495.6,489.6 498.6,489.6 L504.3,489.6 L510.5,495.2 L520.9,495.2 L527.1,489.6 L585.4,489.6 Q588.4,489.6 588.4,492.6 L588.4,518.8 Q588.4,521.8 585.4,521.8 L527.1,521.8 L520.9,527.4 L510.5,527.4 L504.3,521.8 L498.6,521.8 Q495.6,521.8 495.6,518.8 Z" fill="#FFAB19" stroke="#D08E17" stroke-width="1"/>
<text x="500.6" y="510.5" fill="#fff" font-size="16" text-anchor="start" textLength="30.2" lengthAdjust="spacingAndGlyphs"><tspan stroke="#fff" stroke-width="0.35">等待</tspan></text>
<rect x="536.7" y="494.8" width="26.3" height="21" rx="10.5" fill="#fff" stroke="none"/>
<text x="549.85" y="511.1" fill="#575E75" font-size="16" text-anchor="middle">1</text>
<text x="568" y="510.5" fill="#fff" font-size="16" text-anchor="start" textLength="15.3" lengthAdjust="spacingAndGlyphs"><tspan stroke="#fff" stroke-width="0.35">秒</tspan></text>
<circle cx="500.4" cy="533" r="8.8" fill="none" stroke="#fff" stroke-width="1.8"/><rect x="495.4" y="531.95" width="10" height="2.1" fill="#fff"/><rect x="499.35" y="528" width="2.1" height="10" fill="#fff"/>
<path d="M484.8,568.7 Q484.8,565.7 487.8,565.7 L493.5,565.7 L499.7,571.3 L510.1,571.3 L516.3,565.7 L720,565.7 Q723,565.7 723,568.7 L723,600 Q723,603 720,603 L516.3,603 L510.1,608.6 L499.7,608.6 L493.5,603 L487.8,603 Q484.8,603 484.8,600 Z" fill="#5C45E2" stroke="#6A6F98" stroke-width="1"/>
<circle cx="503.3" cy="583.55" r="7.4" fill="none" stroke="#fff" stroke-width="1.35"/>
<ellipse cx="503.3" cy="583.75" rx="5.8" ry="2.6" fill="none" stroke="#fff" stroke-width="1.0"/>
<text x="503.3" y="597.95" fill="#fff" font-size="6.6" font-weight="bold" font-style="italic" text-anchor="middle">K10</text>
<rect x="521.8" y="570.7" width="1" height="27.3" fill="#3424A8"/>
<text x="529.6" y="589.7" fill="#fff" font-size="16" text-anchor="start" textLength="58.8" lengthAdjust="spacingAndGlyphs"><tspan stroke="#fff" stroke-width="0.35">语音合成</tspan></text>
<rect x="594.7" y="574" width="122.3" height="21" rx="10.5" fill="#fff" stroke="none"/>
<text x="655.85" y="590.3" fill="#575E75" font-size="16" text-anchor="middle" textLength="108" lengthAdjust="spacingAndGlyphs">&quot; 未找到盲道！ &quot;</text>
<path d="M484.8,606 Q484.8,603 487.8,603 L493.5,603 L499.7,608.6 L510.1,608.6 L516.3,603 L575.6,603 Q578.6,603 578.6,606 L578.6,631.7 Q578.6,634.7 575.6,634.7 L516.3,634.7 L510.1,640.3 L499.7,640.3 L493.5,634.7 L487.8,634.7 Q484.8,634.7 484.8,631.7 Z" fill="#FFAB19" stroke="#D08E17" stroke-width="1"/>
<text x="489.6" y="624.2" fill="#fff" font-size="16" text-anchor="start" textLength="30.6" lengthAdjust="spacingAndGlyphs"><tspan stroke="#fff" stroke-width="0.35">等待</tspan></text>
<rect x="526" y="608.5" width="26.4" height="21" rx="10.5" fill="#fff" stroke="none"/>
<text x="539.2" y="624.8" fill="#575E75" font-size="16" text-anchor="middle">1</text>
<text x="557" y="624.2" fill="#fff" font-size="16" text-anchor="start" textLength="15.7" lengthAdjust="spacingAndGlyphs"><tspan stroke="#fff" stroke-width="0.35">秒</tspan></text>
<circle cx="1107" cy="511.7" r="18" fill="#FDE6CC"/>
<circle cx="1107" cy="559.7" r="18" fill="#FDE6CC"/>
<circle cx="1107" cy="607.6" r="18" fill="#FDE6CC"/>
<circle cx="1107" cy="656.8" r="16.6" fill="#FFFFFF" stroke="#D2D2D2" stroke-width="1.8"/>
<circle cx="1107" cy="700.8" r="16.6" fill="#FFFFFF" stroke="#D2D2D2" stroke-width="1.8"/>
<g fill="none" stroke="#F7A23B" stroke-width="2.6" stroke-linecap="butt"><path d="M1101.3,510.5 A6.6,6.6 0 1 1 1106.5,518.2"/><path d="M1112.7,558.5 A6.6,6.6 0 1 0 1107.5,566.2"/><path d="M1101.5,600 L1101.5,613.5 L1116,613.5 M1098.5,603.5 L1113,603.5 L1113,617 M1102.5,612.5 L1112,604.5" stroke-width="2.6"/></g>
<path d="M1096.8,509.3 L1105.4,509.3 L1101.3,514.6 Z" fill="#F7A23B" stroke="#F7A23B" stroke-width="0.8" stroke-linejoin="round"/>
<path d="M1108.6,557.3 L1117.2,557.3 L1112.7,562.6 Z" fill="#F7A23B" stroke="#F7A23B" stroke-width="0.8" stroke-linejoin="round"/>
<g fill="none" stroke="#646B85" stroke-width="1.7" stroke-linecap="butt"><circle cx="1107" cy="656.4" r="6.6"/><path d="M1111.8,661.2 L1115.6,665" stroke-width="2"/><path d="M1103.4,656.4 L1110.6,656.4 M1107,652.8 L1107,660" stroke-width="2.1"/><circle cx="1107" cy="700.5" r="6.6"/><path d="M1111.8,705.3 L1115.6,709.1" stroke-width="2"/><path d="M1103.6,700.6 L1110.4,700.6" stroke-width="2.1"/></g>
</svg>
</body></html>
